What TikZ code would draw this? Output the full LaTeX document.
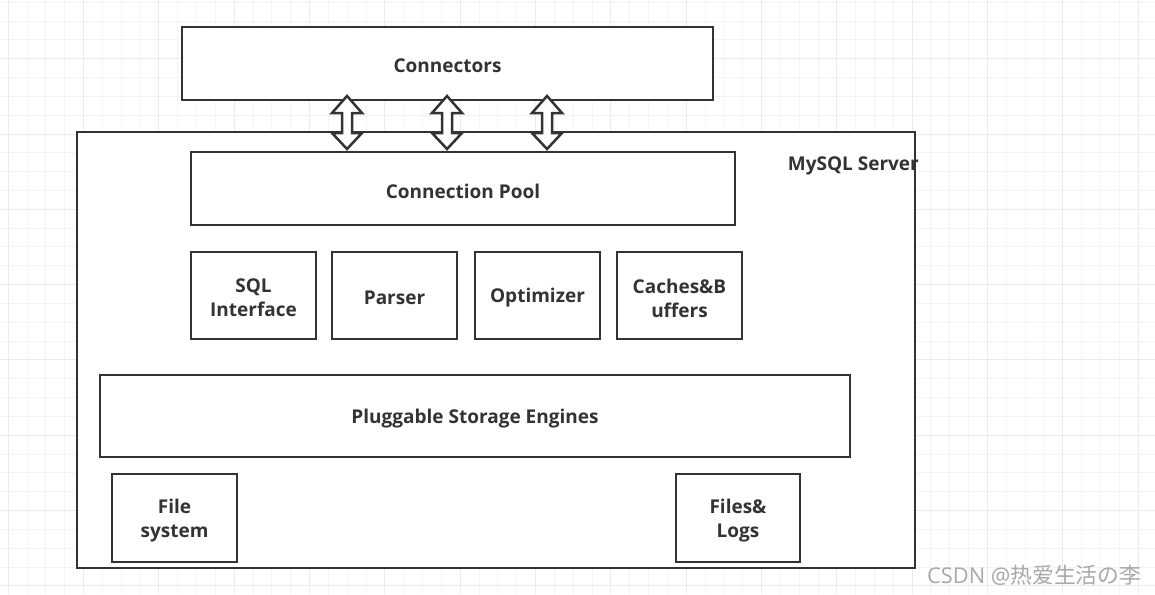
\documentclass[tikz,border=0pt]{standalone}
\usepackage{fontspec}
\setmainfont{Open Sans}
\newfontfamily\cjk{Noto Sans CJK SC}
\definecolor{ink}{HTML}{333333}
\definecolor{gridminor}{HTML}{F4F4F4}
\definecolor{gridmajor}{HTML}{EBEBEB}
\definecolor{wm}{HTML}{A8A8A8}
\begin{document}
\begin{tikzpicture}[x=1pt,y=-1pt,
  lbl/.style={font=\fontsize{19}{24}\selectfont\bfseries, text=ink},
  box/.style={draw=ink, line width=2.5pt, fill=white, inner sep=0pt},
  txt/.style={label={[lbl, align=center, yshift=-2.5pt]center:#1}},
  dblarrow/.style={draw=ink, line width=2.5pt, fill=white, line join=miter}]
\useasboundingbox (0,0) rectangle (1155,594);
\fill[white] (0,0) rectangle (1155,594);
% grid
\foreach \i in {0,...,61} {
  \pgfmathsetmacro{\xx}{8.3+18.83*\i}
  \draw[gridminor, line width=1pt] (\xx,0) -- (\xx,594);
}
\foreach \i in {0,...,31} {
  \pgfmathsetmacro{\yy}{2.2+18.83*\i}
  \draw[gridminor, line width=1pt] (0,\yy) -- (1155,\yy);
}
\foreach \i in {0,...,15} {
  \pgfmathsetmacro{\xx}{8.3+75.32*\i}
  \draw[gridmajor, line width=1pt] (\xx,0) -- (\xx,594);
}
\foreach \i in {0,...,7} {
  \pgfmathsetmacro{\yy}{58.7+75.32*\i}
  \draw[gridmajor, line width=1pt] (0,\yy) -- (1155,\yy);
}
% boxes
\node[box, minimum width=531pt, minimum height=73pt, txt={Connectors}] (conn) at (447.5,63.5) {};
\node[box, minimum width=838pt, minimum height=436pt] (server) at (496,350) {};
\node[lbl, anchor=east, inner sep=0pt] (serverlbl) at (919,166) {MySQL Server};
\node[box, minimum width=544pt, minimum height=73pt, txt={Connection Pool}] (pool) at (463,188.5) {};
\node[box, minimum width=125pt, minimum height=87pt, txt={SQL\\Interface}] (sqli) at (253.5,295.5) {};
\node[box, minimum width=125pt, minimum height=87pt, txt={Parser}] (parser) at (394.5,295.5) {};
\node[box, minimum width=125pt, minimum height=87pt, txt={Optimizer}] (opt) at (537.5,295.5) {};
\node[box, minimum width=125pt, minimum height=87pt, txt={Caches\&B\\uffers}] (cache) at (679.5,295.5) {};
\node[box, minimum width=750pt, minimum height=82pt, txt={Pluggable Storage Engines}] (engine) at (475,416) {};
\node[box, minimum width=125pt, minimum height=88pt, txt={File\\system}] (fs) at (174.5,518) {};
\node[box, minimum width=124pt, minimum height=88pt, txt={Files\&\\Logs}] (logs) at (738,518) {};
% double arrows between connectors and connection pool
\foreach \cx/\nm in {347/a, 447/b, 547/c} {
  \coordinate (top\nm) at (\cx,96);
  \draw[dblarrow] (top\nm) -- ++(15,17) -- ++(-10,0) -- ++(0,20) -- ++(10,0)
     -- ++(-15,16) -- ++(-15,-16) -- ++(10,0) -- ++(0,-20) -- ++(-10,0) -- cycle;
}
% watermark
\node[anchor=west, text=wm, font=\fontsize{21.8}{24}\selectfont, inner sep=0pt] (mark) at (927,575) {CSDN @{\cjk 热爱生活の李}};
\end{tikzpicture}
\end{document}
